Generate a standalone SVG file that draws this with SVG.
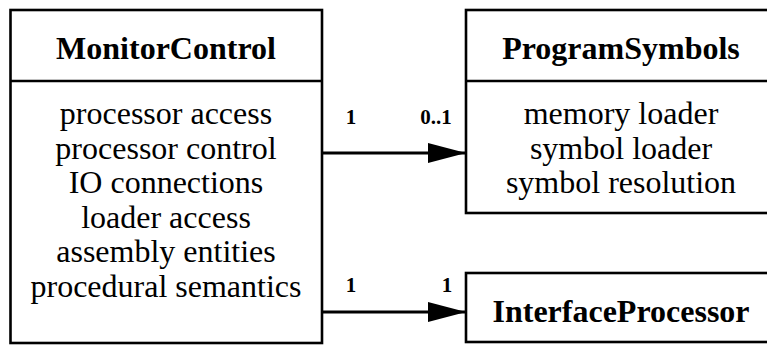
<svg xmlns="http://www.w3.org/2000/svg" width="767" height="345" viewBox="0 0 767 345">
<style>
.box{fill:#fff;stroke:#000;stroke-width:2.6}
.t{font-family:"Liberation Serif","Times New Roman",serif;font-size:32px;font-weight:bold;text-anchor:middle;fill:#000}
.b{font-family:"Liberation Serif","Times New Roman",serif;font-size:32px;text-anchor:middle;fill:#000}
.m{font-family:"Liberation Serif","Times New Roman",serif;font-size:21px;font-weight:bold;text-anchor:middle;fill:#000}
.e{stroke:#000;stroke-width:2.8;fill:none}
</style>
<defs>
<marker id="ah" markerUnits="userSpaceOnUse" markerWidth="40" markerHeight="24" refX="38" refY="10" orient="auto">
<path d="M0,0 L38,10 L0,20 Z" fill="#000"/>
</marker>
</defs>
<rect width="767" height="345" fill="#fff"/>
<g id="MonitorControl">
<rect class="box" x="10.5" y="10" width="311.5" height="333"/>
<line class="box" x1="10.5" y1="81" x2="322" y2="81"/>
<text class="t" x="166" y="59">MonitorControl</text>
<text class="b" x="166" y="124">processor access</text>
<text class="b" x="166" y="158.5">processor control</text>
<text class="b" x="166" y="193">IO connections</text>
<text class="b" x="166" y="227.5">loader access</text>
<text class="b" x="166" y="262">assembly entities</text>
<text class="b" x="166" y="296.5">procedural semantics</text>
</g>
<g id="ProgramSymbols">
<rect class="box" x="466" y="10" width="312" height="203"/>
<line class="box" x1="466" y1="81" x2="778" y2="81"/>
<text class="t" x="621" y="59">ProgramSymbols</text>
<text class="b" x="621" y="124">memory loader</text>
<text class="b" x="621" y="158.5">symbol loader</text>
<text class="b" x="621" y="193">symbol resolution</text>
</g>
<g id="InterfaceProcessor">
<rect class="box" x="466" y="273" width="312" height="69"/>
<text class="t" x="621" y="322">InterfaceProcessor</text>
</g>
<g id="connectors">
<line class="e" x1="322" y1="153" x2="466" y2="153" marker-end="url(#ah)"/>
<text class="m" x="351" y="124">1</text>
<text class="m" x="436" y="124">0..1</text>
<line class="e" x1="322" y1="312" x2="466" y2="312" marker-end="url(#ah)"/>
<text class="m" x="351" y="292">1</text>
<text class="m" x="447" y="292">1</text>
</g>
</svg>
